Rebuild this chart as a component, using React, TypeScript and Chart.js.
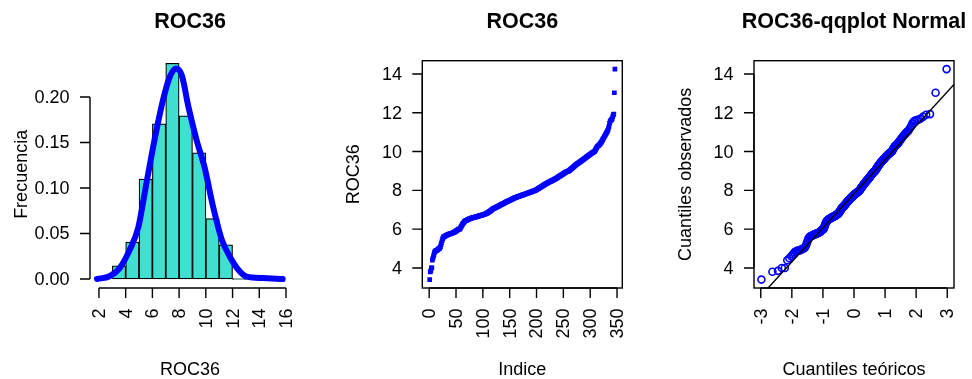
import React, { useEffect, useRef } from "react";
import { Chart, registerables } from "chart.js";

Chart.register(...registerables);

// Sorted sample of ROC36 (n = 346)
const roc36Sorted: number[] = [
  3.40, 3.80, 3.85, 4.00, 4.00, 4.40, 4.50, 4.60, 4.70, 4.80,
  4.85, 4.88, 4.90, 4.90, 4.92, 4.95, 4.97, 5.00, 5.00, 5.05,
  5.10, 5.20, 5.30, 5.40, 5.50, 5.55, 5.60, 5.62, 5.63, 5.65,
  5.66, 5.68, 5.70, 5.70, 5.72, 5.73, 5.74, 5.75, 5.76, 5.77,
  5.78, 5.79, 5.80, 5.80, 5.82, 5.83, 5.85, 5.86, 5.88, 5.90,
  5.92, 5.94, 5.96, 5.98, 6.00, 6.00, 6.00, 6.05, 6.10, 6.15,
  6.20, 6.25, 6.30, 6.33, 6.36, 6.40, 6.42, 6.44, 6.45, 6.46,
  6.48, 6.50, 6.50, 6.52, 6.53, 6.54, 6.55, 6.56, 6.57, 6.58,
  6.59, 6.60, 6.60, 6.61, 6.62, 6.62, 6.63, 6.64, 6.65, 6.65,
  6.66, 6.67, 6.68, 6.69, 6.70, 6.70, 6.71, 6.72, 6.73, 6.74,
  6.75, 6.76, 6.77, 6.78, 6.79, 6.80, 6.81, 6.83, 6.85, 6.86,
  6.88, 6.90, 6.92, 6.94, 6.96, 6.98, 7.01, 7.03, 7.05, 7.06,
  7.08, 7.09, 7.10, 7.12, 7.13, 7.15, 7.16, 7.18, 7.19, 7.20,
  7.22, 7.23, 7.25, 7.26, 7.28, 7.29, 7.30, 7.32, 7.33, 7.35,
  7.36, 7.38, 7.39, 7.41, 7.42, 7.43, 7.45, 7.46, 7.47, 7.49,
  7.50, 7.51, 7.53, 7.54, 7.55, 7.57, 7.58, 7.59, 7.61, 7.62,
  7.63, 7.64, 7.65, 7.66, 7.67, 7.68, 7.69, 7.70, 7.71, 7.72,
  7.73, 7.74, 7.75, 7.76, 7.77, 7.78, 7.79, 7.80, 7.81, 7.82,
  7.83, 7.84, 7.85, 7.86, 7.87, 7.88, 7.89, 7.90, 7.91, 7.92,
  7.93, 7.94, 7.95, 7.96, 7.97, 7.98, 7.99, 8.00, 8.02, 8.04,
  8.05, 8.07, 8.09, 8.10, 8.12, 8.14, 8.16, 8.17, 8.19, 8.21,
  8.22, 8.24, 8.26, 8.28, 8.29, 8.31, 8.33, 8.34, 8.36, 8.37,
  8.39, 8.40, 8.42, 8.43, 8.45, 8.46, 8.48, 8.49, 8.50, 8.52,
  8.53, 8.55, 8.56, 8.58, 8.59, 8.61, 8.62, 8.64, 8.66, 8.68,
  8.70, 8.71, 8.73, 8.75, 8.77, 8.79, 8.80, 8.82, 8.84, 8.86,
  8.88, 8.89, 8.91, 8.93, 8.95, 8.96, 8.97, 8.98, 8.99, 9.00,
  9.02, 9.04, 9.07, 9.09, 9.12, 9.14, 9.16, 9.19, 9.21, 9.24,
  9.26, 9.28, 9.31, 9.33, 9.35, 9.37, 9.39, 9.41, 9.43, 9.45,
  9.47, 9.49, 9.51, 9.53, 9.55, 9.57, 9.59, 9.61, 9.63, 9.65,
  9.67, 9.69, 9.72, 9.74, 9.76, 9.78, 9.80, 9.82, 9.84, 9.86,
  9.88, 9.90, 9.92, 9.94, 9.96, 9.97, 9.99, 10.00, 10.05, 10.10,
  10.15, 10.20, 10.25, 10.28, 10.30, 10.32, 10.35, 10.38, 10.42, 10.46,
  10.50, 10.55, 10.60, 10.65, 10.70, 10.75, 10.80, 10.85, 10.90, 10.95,
  11.00, 11.05, 11.10, 11.20, 11.30, 11.45, 11.55, 11.60, 11.62, 11.65,
  11.70, 11.80, 11.90, 11.93, 13.03, 14.25,
];

// Histogram bin edges (right-closed bins of width 1)
const histBreaks: number[] = [3, 4, 5, 6, 7, 8, 9, 10, 11, 12, 13, 14, 15];

// Kernel density estimate of ROC36
const densityX: number[] = [1.85, 2.8, 3.55, 4.3, 4.95, 5.55, 6.2, 6.8, 7.3, 7.76, 8.2, 8.7, 9.3, 9.9, 10.55, 11.2, 11.8, 12.45, 13.05, 14.3, 15.75];
const densityY: number[] = [0.0, 0.003, 0.012, 0.032, 0.057, 0.105, 0.156, 0.197, 0.222, 0.2313, 0.224, 0.189, 0.153, 0.123, 0.079, 0.043, 0.0245, 0.0099, 0.0026, 0.001, 0.0];

// Axis ticks
const histXTicks: number[] = [2, 4, 6, 8, 10, 12, 14, 16];
const histYTicks: number[] = [0, 0.05, 0.1, 0.15, 0.2];
const histYTickLabels: string[] = ["0.00", "0.05", "0.10", "0.15", "0.20"];
const indexTicks: number[] = [0, 50, 100, 150, 200, 250, 300, 350];
const valueTicks: number[] = [4, 6, 8, 10, 12, 14];
const normalTicks: number[] = [-3, -2, -1, 0, 1, 2, 3];

const FONT = '"Liberation Sans", Arial, Helvetica, sans-serif';
const BASE_PX = 18;
const TITLE_PX = 21.5;
const LINE = 20.4;
const TICK_LEN = 10;
const LW = 1.4;
const BLUE = "#0000FF";

// Inverse standard normal CDF (Acklam)
function qnorm(p: number): number {
  const a = [-3.969683028665376e1, 2.209460984245205e2, -2.759285104469687e2, 1.38357751867269e2, -3.066479806614716e1, 2.506628277459239];
  const b = [-5.447609879822406e1, 1.615858368580409e2, -1.556989798598866e2, 6.680131188771972e1, -1.328068155288572e1];
  const c = [-7.784894002430293e-3, -3.223964580411365e-1, -2.400758277161838, -2.549732539343734, 4.374664141464968, 2.938163982698783];
  const d = [7.784695709041462e-3, 3.224671290700398e-1, 2.445134137142996, 3.754408661907416];
  const pl = 0.02425;
  if (p < pl) {
    const q = Math.sqrt(-2 * Math.log(p));
    return (((((c[0] * q + c[1]) * q + c[2]) * q + c[3]) * q + c[4]) * q + c[5]) / ((((d[0] * q + d[1]) * q + d[2]) * q + d[3]) * q + 1);
  }
  if (p > 1 - pl) {
    const q = Math.sqrt(-2 * Math.log(1 - p));
    return -(((((c[0] * q + c[1]) * q + c[2]) * q + c[3]) * q + c[4]) * q + c[5]) / ((((d[0] * q + d[1]) * q + d[2]) * q + d[3]) * q + 1);
  }
  const q = p - 0.5;
  const r = q * q;
  return ((((((a[0] * r + a[1]) * r + a[2]) * r + a[3]) * r + a[4]) * r + a[5]) * q) / (((((b[0] * r + b[1]) * r + b[2]) * r + b[3]) * r + b[4]) * r + 1);
}

function quantile7(sorted: number[], prob: number): number {
  const h = (sorted.length - 1) * prob;
  const lo = Math.floor(h);
  const hi = Math.min(lo + 1, sorted.length - 1);
  return sorted[lo] + (h - lo) * (sorted[hi] - sorted[lo]);
}

const n = roc36Sorted.length;
const vMin = roc36Sorted[0];
const vMax = roc36Sorted[n - 1];
const valueRange = { min: vMin - 0.04 * (vMax - vMin), max: vMax + 0.04 * (vMax - vMin) };

// histogram densities
const histBars = histBreaks.slice(0, -1).map((lo, i) => {
  const hi = histBreaks[i + 1];
  const count = roc36Sorted.filter((v) => v > lo && v <= hi).length;
  return { x: (lo + hi) / 2, y: count / (n * (hi - lo)) };
});

// normal scores (ppoints) and reference line through quartiles
const aPP = n <= 10 ? 3 / 8 : 0.5;
const normalScores = roc36Sorted.map((_, i) => qnorm((i + 1 - aPP) / (n + 1 - 2 * aPP)));
const sMin = normalScores[0];
const sMax = normalScores[n - 1];
const scoreRange = { min: sMin - 0.04 * (sMax - sMin), max: sMax + 0.04 * (sMax - sMin) };
const q25 = quantile7(roc36Sorted, 0.25);
const q75 = quantile7(roc36Sorted, 0.75);
const zq = qnorm(0.75);
const qqSlope = (q75 - q25) / (2 * zq);
const qqIntercept = q25 + qqSlope * zq;

type AxisSpec = {
  title: string;
  xLabel: string;
  yLabel: string;
  xTicks: number[];
  xTickLabels: string[];
  yTicks: number[];
  yTickLabels: string[];
  box: boolean;
};

// Base-graphics style frame: box, axes with outside ticks, rotated x labels, titles
function baseFrame(spec: AxisSpec) {
  return {
    id: "baseFrame",
    afterDraw(chart: any) {
      const { ctx, chartArea: a } = chart;
      const xs = chart.scales.x;
      const ys = chart.scales.y;
      ctx.save();
      ctx.strokeStyle = "#000";
      ctx.fillStyle = "#000";
      ctx.lineWidth = LW;
      if (spec.box) ctx.strokeRect(a.left, a.top, a.right - a.left, a.bottom - a.top);
      const xp = spec.xTicks.map((v) => xs.getPixelForValue(v));
      const yp = spec.yTicks.map((v) => ys.getPixelForValue(v));
      ctx.beginPath();
      ctx.moveTo(xp[0], a.bottom);
      ctx.lineTo(xp[xp.length - 1], a.bottom);
      xp.forEach((p) => {
        ctx.moveTo(p, a.bottom);
        ctx.lineTo(p, a.bottom + TICK_LEN);
      });
      ctx.moveTo(a.left, yp[0]);
      ctx.lineTo(a.left, yp[yp.length - 1]);
      yp.forEach((p) => {
        ctx.moveTo(a.left, p);
        ctx.lineTo(a.left - TICK_LEN, p);
      });
      ctx.stroke();

      ctx.font = `${BASE_PX}px ${FONT}`;
      ctx.textAlign = "right";
      ctx.textBaseline = "middle";
      yp.forEach((p, i) => ctx.fillText(spec.yTickLabels[i], a.left - LINE, p + 1));
      xp.forEach((p, i) => {
        ctx.save();
        ctx.translate(p + 1, a.bottom + LINE);
        ctx.rotate(-Math.PI / 2);
        ctx.textAlign = "right";
        ctx.textBaseline = "middle";
        ctx.fillText(spec.xTickLabels[i], 0, 0);
        ctx.restore();
      });

      const cx = (a.left + a.right) / 2;
      const cy = (a.top + a.bottom) / 2;
      ctx.textAlign = "center";
      ctx.textBaseline = "alphabetic";
      ctx.fillText(spec.xLabel, cx, a.bottom + 87);
      ctx.save();
      ctx.translate(a.left - 63.5, cy);
      ctx.rotate(-Math.PI / 2);
      ctx.fillText(spec.yLabel, 0, 0);
      ctx.restore();

      ctx.font = `bold ${TITLE_PX}px ${FONT}`;
      ctx.fillText(spec.title, cx, 27.5);
      ctx.restore();
    },
  };
}

const commonOptions = {
  responsive: false,
  animation: false as const,
  devicePixelRatio: 1,
  events: [] as any[],
  plugins: { legend: { display: false }, tooltip: { enabled: false }, title: { display: false } },
};

function histogramConfig(): any {
  return {
    type: "bar",
    data: {
      datasets: [
        {
          type: "line",
          data: densityX.map((x, i) => ({ x, y: densityY[i] })),
          borderColor: BLUE,
          borderWidth: 6,
          borderCapStyle: "round",
          borderJoinStyle: "round",
          cubicInterpolationMode: "monotone",
          pointRadius: 0,
          fill: false,
        },
        {
          type: "bar",
          data: histBars,
          backgroundColor: "#40E0D0",
          borderColor: "#000",
          borderWidth: 1.2,
          borderSkipped: false,
          barPercentage: 1,
          categoryPercentage: 1,
          minBarLength: 1,
        },
      ],
    },
    options: {
      ...commonOptions,
      layout: { padding: { left: 90, right: 34, top: 60.7, bottom: 91 } },
      scales: {
        x: { type: "linear", min: 1.33, max: 16.3, offset: false, display: false },
        y: { type: "linear", min: -0.0099, max: 0.2399, display: false },
      },
    },
    plugins: [
      baseFrame({
        title: "ROC36",
        xLabel: "ROC36",
        yLabel: "Frecuencia",
        xTicks: histXTicks,
        xTickLabels: histXTicks.map(String),
        yTicks: histYTicks,
        yTickLabels: histYTickLabels,
        box: false,
      }),
    ],
  };
}

function indexConfig(): any {
  return {
    type: "scatter",
    data: {
      datasets: [
        {
          data: roc36Sorted.map((v, i) => ({ x: i + 1, y: v })),
          pointStyle: "rect",
          pointRadius: 3.3,
          borderWidth: 0,
          backgroundColor: BLUE,
        },
      ],
    },
    options: {
      ...commonOptions,
      layout: { padding: { left: 98.3, right: 25.7, top: 60.7, bottom: 91 } },
      scales: {
        x: { type: "linear", min: 1 - 0.04 * (n - 1), max: n + 0.04 * (n - 1), display: false },
        y: { type: "linear", min: valueRange.min, max: valueRange.max, display: false },
      },
    },
    plugins: [
      baseFrame({
        title: "ROC36",
        xLabel: "Indice",
        yLabel: "ROC36",
        xTicks: indexTicks,
        xTickLabels: indexTicks.map(String),
        yTicks: valueTicks,
        yTickLabels: valueTicks.map(String),
        box: true,
      }),
    ],
  };
}

function qqConfig(): any {
  return {
    type: "scatter",
    data: {
      datasets: [
        {
          type: "line",
          showLine: true,
          data: [scoreRange.min, scoreRange.max].map((x) => ({ x, y: qqIntercept + qqSlope * x })),
          borderColor: "#000",
          borderWidth: LW,
          pointRadius: 0,
          fill: false,
        },
        {
          data: roc36Sorted.map((v, i) => ({ x: normalScores[i], y: v })),
          pointStyle: "circle",
          pointRadius: 3.5,
          borderWidth: 1.6,
          borderColor: BLUE,
          backgroundColor: "rgba(0,0,0,0)",
        },
      ],
    },
    options: {
      ...commonOptions,
      layout: { padding: { left: 106, right: 18, top: 60.7, bottom: 91 } },
      scales: {
        x: { type: "linear", min: scoreRange.min, max: scoreRange.max, display: false },
        y: { type: "linear", min: valueRange.min, max: valueRange.max, display: false },
      },
    },
    plugins: [
      baseFrame({
        title: "ROC36-qqplot Normal",
        xLabel: "Cuantiles teóricos",
        yLabel: "Cuantiles observados",
        xTicks: normalTicks,
        xTickLabels: normalTicks.map(String),
        yTicks: valueTicks,
        yTickLabels: valueTicks.map(String),
        box: true,
      }),
    ],
  };
}

function Panel({ left, makeConfig }: { left: number; makeConfig: () => any }) {
  const ref = useRef<HTMLCanvasElement | null>(null);
  useEffect(() => {
    if (!ref.current) return;
    const chart = new Chart(ref.current, makeConfig());
    return () => chart.destroy();
  }, [makeConfig]);
  return (
    <canvas
      ref={ref}
      width={324}
      height={379}
      style={{ position: "absolute", left, top: 0, width: 324, height: 379 }}
    />
  );
}

export default function App() {
  return (
    <div style={{ position: "absolute", left: 0, top: 0, width: 972, height: 379, background: "#fff" }}>
      <Panel left={0} makeConfig={histogramConfig} />
      <Panel left={324} makeConfig={indexConfig} />
      <Panel left={648} makeConfig={qqConfig} />
    </div>
  );
}
